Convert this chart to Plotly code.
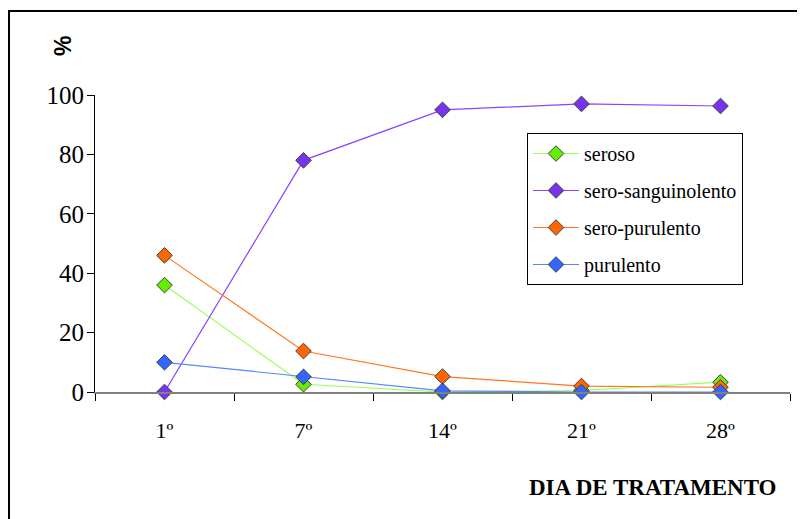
import plotly.graph_objects as go

dias = ["1º", "7º", "14º", "21º", "28º"]
seroso = [36, 2.6, 0, 0.5, 3.3]
sero_sanguinolento = [0, 78, 95, 97, 96.3]
sero_purulento = [46, 13.8, 5.2, 2.0, 1.6]
purulento = [10, 5.1, 0.4, 0, 0]

series = [
    ("seroso", seroso, "#99FF55", "#66EE00"),
    ("sero-sanguinolento", sero_sanguinolento, "#8844FF", "#7733EE"),
    ("sero-purulento", sero_purulento, "#FF7722", "#FF6600"),
    ("purulento", purulento, "#5588FF", "#3366FF"),
]

SERIF = "Times New Roman, Liberation Serif, serif"
OFF = 8  # page body margin
W, H = 805 - OFF, 519 - OFF
L, R, T, B = 95 - OFF, 15, 95 - OFF, 127
pw, ph = W - L - R, H - T - B

def px_x(p):
    return (p - OFF - L) / pw

def px_y(p):
    return (H - B - (p - OFF)) / ph

fig = go.Figure()
for i, (name, vals, lc, mc) in enumerate(series):
    fig.add_trace(go.Scatter(
        x=dias, y=vals, name=name, mode="lines+markers",
        line=dict(color=lc, width=1.2),
        marker=dict(symbol="diamond", size=12, color=mc,
                    line=dict(color="#404040", width=1)),
        cliponaxis=False, legendgroup=str(i),
    ))

fig.update_layout(
    width=W, height=H,
    margin=dict(l=L, r=R, t=T, b=B),
    paper_bgcolor="white", plot_bgcolor="white",
    font=dict(family=SERIF, size=22, color="black"),
    legend=dict(
        x=px_x(527), y=px_y(133), xanchor="left", yanchor="top",
        bordercolor="black", borderwidth=1, bgcolor="white",
        font=dict(family=SERIF, size=20, color="black"),
        traceorder="grouped", tracegroupgap=8,
        itemwidth=46,
    ),
    showlegend=True,
)
fig.update_xaxes(
    type="category", range=[-0.5, 4.5], tickson="boundaries",
    ticks="outside", ticklen=7,
    tickcolor="black", showline=True, linecolor="#808080", linewidth=2,
    showgrid=False, zeroline=False, ticklabelstandoff=18,
    tickfont=dict(family=SERIF, size=22, color="black"),
)
fig.update_yaxes(
    range=[0, 100], tickvals=[0, 20, 40, 60, 80, 100], ticks="outside",
    ticklen=7, tickcolor="black", showline=True, linecolor="black",
    linewidth=1, showgrid=False, zeroline=False, ticklabelstandoff=-2,
    tickfont=dict(family=SERIF, size=25, color="black"),
)
fig.add_shape(type="rect", xref="paper", yref="paper",
              x0=px_x(9), x1=px_x(830), y0=px_y(11), y1=px_y(560),
              line=dict(color="black", width=2), layer="below")
fig.add_annotation(text="<b>DIA DE TRATAMENTO</b>", xref="paper", yref="paper",
                   x=px_x(653), y=px_y(487), showarrow=False,
                   xanchor="center", yanchor="middle",
                   font=dict(family=SERIF, size=23, color="black"))
fig.add_annotation(text="<b>%</b>", xref="paper", yref="paper",
                   x=px_x(63), y=px_y(46), showarrow=False, textangle=-90,
                   xanchor="center", yanchor="middle",
                   font=dict(family="Arial, Liberation Sans, sans-serif", size=23, color="black"))

fig.write_html("out.html")
